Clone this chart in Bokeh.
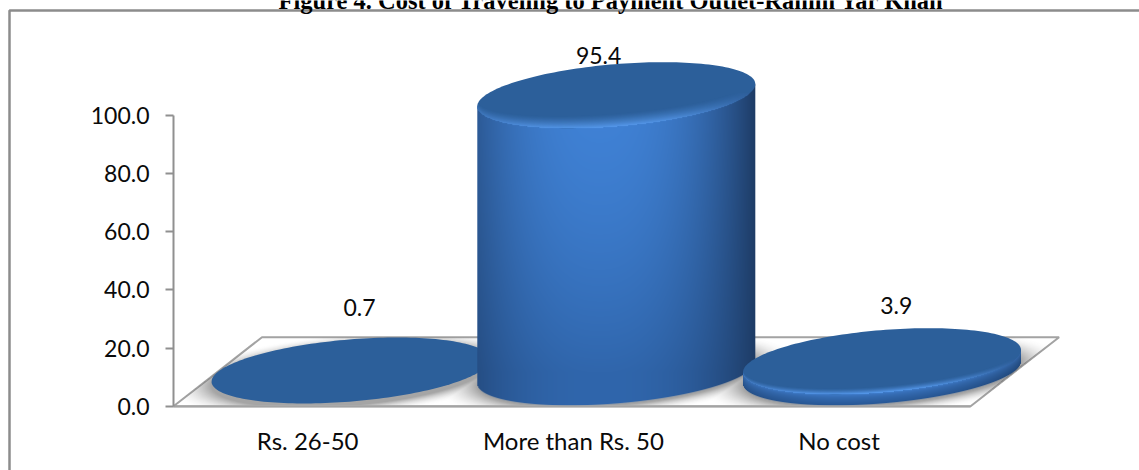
import numpy as np
from bokeh.plotting import figure
from bokeh.embed import file_html
from bokeh.resources import INLINE
from bokeh.models import Range1d, FixedTicker, Label
from bokeh.core.properties import value

# Chart content
categories = ["Rs. 26-50", "More than Rs. 50", "No cost"]
values = [0.7, 95.4, 3.9]
value_labels = ["0.7", "95.4", "3.9"]
y_ticks = [0, 20, 40, 60, 80, 100]
y_tick_labels = ["0.0", "20.0", "40.0", "60.0", "80.0", "100.0"]
chart_title = "Figure 4. Cost of Traveling to Payment Outlet-Rahim Yar Khan"

# Placement of the value captions, in axis units
label_dx = [0.20, 0.10, 0.22]
label_y = [34.0, 120.6, 34.6]

# Page layout in pixels: where the axes cross and how large one unit is
W, H = 1139, 470
LEFT, BOTTOM_PX = 173, 405.7
SX, SY = 265.7, 2.907

# 3-D floor depth and disc proportions
DEPTH_X, DEPTH_Y = 88.5 / SX, 69.0 / SY
BASE_DX, BASE_Y = DEPTH_X / 2, 33.7 / SY
XH_PX, YH_PX, SLOPE = 139.0, 33.0, 0.08
K_PX = np.sqrt(YH_PX**2 - (SLOPE * XH_PX) ** 2)

GRAY = "#a3a3a3"
RULE = "#8c8c8c"


def data_x(px):
    return (px - LEFT) / SX


def data_y(px):
    return (BOTTOM_PX - px) / SY


# The frame fills the whole page; both axes are pinned at their crossing point
p = figure(width=W, height=H, output_backend="svg", toolbar_location=None,
           x_range=Range1d(data_x(0), data_x(W)), y_range=Range1d(data_y(H), data_y(0)),
           min_border=0, background_fill_color="white",
           border_fill_color="white", outline_line_color=None)
p.grid.visible = False

ya = p.yaxis[0]
ya.fixed_location = 0
ya.bounds = (0, 100)
ya.ticker = FixedTicker(ticks=y_ticks)
ya.major_label_overrides = {t: s for t, s in zip(y_ticks, y_tick_labels)}
ya.axis_line_color = "#909090"
ya.axis_line_width = 2
ya.major_tick_line_color = "#909090"
ya.major_tick_line_width = 2
ya.major_tick_out = 8
ya.major_tick_in = 0
ya.minor_tick_line_color = None
ya.major_label_text_font = "Lato"
ya.major_label_text_font_size = "23px"
ya.major_label_text_color = "#0a0a0a"
ya.major_label_standoff = 16

# Category slots are one unit wide; captions sit a touch right of centre
cat_x = [i + 0.5 for i in range(len(categories))]
cat_tick = [x + 0.005 for x in cat_x]
xa = p.xaxis[0]
xa.fixed_location = 0
xa.bounds = (0, 3)
xa.ticker = FixedTicker(ticks=cat_tick)
xa.major_label_overrides = {x: c for x, c in zip(cat_tick, categories)}
xa.axis_line_color = GRAY
xa.axis_line_width = 2
xa.major_tick_line_color = None
xa.major_tick_out = 0
xa.major_tick_in = 0
xa.minor_tick_line_color = None
xa.major_label_text_font = "Lato"
xa.major_label_text_font_size = "24px"
xa.major_label_text_color = "#0a0a0a"
xa.major_label_standoff = 20

# Floor parallelogram
floor_x = [0, 3, 3 + DEPTH_X, DEPTH_X]
floor_y = [0, 0, DEPTH_Y, DEPTH_Y]


def grid_for(x0, x1, y0, y1):
    """Pixel-centre coordinates in axis units for a raster covering the box."""
    nx = int(np.ceil((x1 - x0) * SX))
    ny = int(np.ceil((y1 - y0) * SY))
    xs = x0 + (np.arange(nx) + 0.5) / SX
    ys = y0 + (np.arange(ny) + 0.5) / SY
    return np.meshgrid(xs, ys)


def to_rgba(rgb, alpha):
    a = np.clip(alpha, 0, 1)
    out = np.zeros(a.shape + (4,), dtype=np.uint8)
    out[..., :3] = np.clip(rgb, 0, 255).astype(np.uint8)
    out[..., 3] = (a * 255).astype(np.uint8)
    return out.view(np.uint32).reshape(a.shape)


def ellipse_outline(cx, cy, n=180):
    t = np.linspace(0, 2 * np.pi, n)
    dx = XH_PX * np.cos(t)
    dy = SLOPE * dx + K_PX * np.sin(t)
    return cx + dx / SX, cy + dy / SY


def lower_edge(px_dx):
    """Pixel offset of the front rim of a disc at a horizontal pixel offset."""
    u = np.clip(px_dx / XH_PX, -1, 1)
    return SLOPE * px_dx - K_PX * np.sqrt(1 - u**2)


centers = [x + BASE_DX for x in cat_x]

# Floor edges, beneath the shadow and the columns
p.line(floor_x + floor_x[:1], floor_y + floor_y[:1], line_color=GRAY, line_width=2)

# Soft contact shadow on the floor, kept inside the parallelogram
X, Y = grid_for(0, 3 + DEPTH_X, 0, DEPTH_Y)
shade = np.zeros_like(X)
for c in centers:
    dx = (X - c) * SX
    dy = (Y - BASE_Y) * SY + 2.0 - SLOPE * dx
    q = np.sqrt((dx / XH_PX) ** 2 + (dy / K_PX) ** 2)
    gap = (q - 1) * np.hypot(XH_PX * 0.25, K_PX)
    shade = np.maximum(shade, 0.62 * np.clip(1 - gap / 15.0, 0, 1) ** 2)
inside = (Y >= 1 / SY) & (X >= Y / DEPTH_Y * DEPTH_X) & (X <= 3 + Y / DEPTH_Y * DEPTH_X)
shade = np.where(inside, shade, 0)
p.image_rgba(image=[to_rgba(np.full(X.shape + (3,), 110.0), shade)],
             x=0, y=0, dw=X.shape[1] / SX, dh=X.shape[0] / SY)

# Columns, drawn left to right so the tall one overlaps its neighbours
EDGE = np.array([30, 60, 102], dtype=float)
BRIGHT = np.array([64, 130, 214], dtype=float)
LOW = np.array([48, 102, 172], dtype=float)
BEVEL_LIT = np.array([84, 150, 232], dtype=float)
BEVEL_DIM = np.array([44, 90, 148], dtype=float)
RIM_TOP = np.array([66, 128, 208], dtype=float)
RIM_LOW = np.array([40, 88, 150], dtype=float)


def light_across(u):
    """How strongly the surface is lit at a relative horizontal position."""
    return np.clip(1 - np.abs((u + 0.12) / 1.12) ** 2.4, 0, 1)[..., None]


for c, v in zip(centers, values):
    top_y = BASE_Y + v
    x0 = c - XH_PX / SX
    x1 = c + XH_PX / SX

    # Curved side wall with a lit centre
    if v > 1:
        X, Y = grid_for(x0, x1, max(0, BASE_Y - (YH_PX + 12) / SY), top_y + 14 / SY)
        dx = (X - c) * SX
        mix = light_across(dx / XH_PX)
        bottom = BASE_Y + lower_edge(dx) / SY
        wall_top = top_y + SLOPE * dx / SY
        if v > 20:
            t = np.clip((top_y - Y) / v, 0, 1)
            centre = BRIGHT + (LOW - BRIGHT) * (t ** 1.5)[..., None]
            rgb = EDGE + (centre - EDGE) * mix
        else:
            # Thin disc: shade down the rim from its front edge
            rim_top = top_y + lower_edge(dx) / SY
            t = np.clip((rim_top - Y) * SY / (v * SY), 0, 1)
            rgb = RIM_TOP + (RIM_LOW - RIM_TOP) * (t ** 0.6)[..., None]
            rgb = rgb * (0.82 + 0.18 * mix)
        alpha = np.clip((Y - bottom) * SY + 0.5, 0, 1) * np.clip((wall_top - Y) * SY + 0.5, 0, 1)
        p.image_rgba(image=[to_rgba(rgb, alpha)], x=x0, y=Y[0, 0] - 0.5 / SY,
                     dw=X.shape[1] / SX, dh=X.shape[0] / SY)

    # Flat top face
    ex, ey = ellipse_outline(c, top_y)
    p.patch(ex, ey, fill_color="#2c5f9a", line_color=None)

    # Bevel along the front rim, brightest at the very edge
    bevel = 13.0 if v > 20 else (6.0 if v > 1 else 0.0)
    if bevel:
        X, Y = grid_for(x0, x1, top_y - (YH_PX + 2) / SY, top_y + 2 / SY)
        dx = (X - c) * SX
        u = np.clip(dx / XH_PX, -1, 1)
        dist = (Y - top_y) * SY - lower_edge(dx)
        reach = bevel * (0.45 + 0.55 * np.sqrt(1 - u**2))
        glow = np.clip(1 - dist / reach, 0, 1) ** 1.4
        glow = np.where((np.abs(dx) < XH_PX) & (dist >= -0.5), glow, 0)
        rgb = BEVEL_DIM + (BEVEL_LIT - BEVEL_DIM) * light_across(u)
        p.image_rgba(image=[to_rgba(rgb, glow)], x=x0, y=Y[0, 0] - 0.5 / SY,
                     dw=X.shape[1] / SX, dh=X.shape[0] / SY)

# Value captions
p.text(x=[x + d for x, d in zip(cat_x, label_dx)], y=label_y, text=value_labels,
       text_font=value("Lato"), text_font_size="23px", text_color="#0a0a0a",
       text_align="center", text_baseline="middle")

# Outer frame of the figure: top and left rules run off the page
p.line([data_x(9), data_x(9), data_x(W)], [data_y(H), data_y(10), data_y(10)],
       line_color=RULE, line_width=2.5)

# Heading, partly cut by the top of the page
p.add_layout(Label(x=611, y=0, x_units="canvas", y_units="canvas", text=chart_title,
                   text_font="Liberation Serif", text_font_style="bold", text_font_size="24.5px",
                   text_color="#000000", text_align="center", text_baseline="alphabetic"))

open("out.html", "w").write(file_html(p, INLINE))
